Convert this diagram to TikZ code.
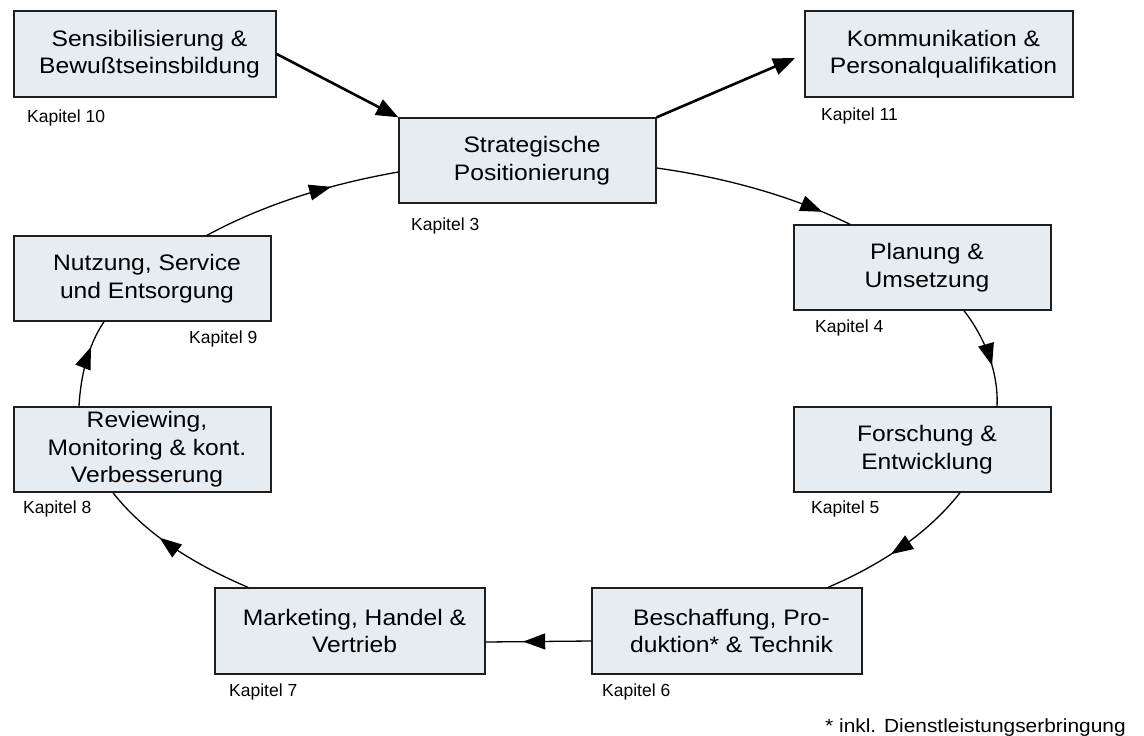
\documentclass[tikz,border=0pt]{standalone}
\usepackage{fontspec}
\setmainfont{Liberation Sans}
\newfontfamily\boxfont[FakeStretch=1.1]{Liberation Sans}
\usetikzlibrary{arrows.meta,decorations.markings}
\definecolor{boxfill}{RGB}{231,236,241}
\definecolor{boxline}{RGB}{30,30,30}
\newcommand{\ind}{\hspace*{9pt}}
\begin{document}
\begin{tikzpicture}[x=1pt,y=1pt,
  stage/.style={draw=boxline, line width=1.4pt, fill=boxfill, inner sep=0pt,
    align=center, font=\boxfont\fontsize{22.4}{27.5}\selectfont},
  chap/.style={anchor=base west, inner sep=0pt, font=\fontsize{17.5}{20}\selectfont},
  flow/.style={line width=1.3pt, looseness=0.85, postaction={decorate},
    decoration={markings, mark=at position #1 with {\arrow{Triangle[length=22pt,width=16pt]}}}},
  bigflow/.style={line width=2.6pt, -{Triangle[length=22pt,width=17pt]}}
]
\useasboundingbox (0,0) rectangle (1144,-736);

% boxes
\node[stage, minimum width=262pt, minimum height=86pt] (sens) at (145,-54) {\ind Sensibilisierung \&\\\ind Bewußtseinsbildung};
\node[stage, minimum width=257pt, minimum height=85pt] (strat) at (527.5,-160.5) {\ind Strategische\\\ind Positionierung};
\node[stage, minimum width=268pt, minimum height=86pt] (komm) at (939,-54) {\ind Kommunikation \&\\\ind Personalqualifikation};
\node[stage, minimum width=257pt, minimum height=85pt] (plan) at (922.5,-267.5) {\ind Planung \&\\\ind Umsetzung};
\node[stage, minimum width=257pt, minimum height=85pt] (forsch) at (922.5,-449.5) {\ind Forschung \&\\\ind Entwicklung};
\node[stage, minimum width=270pt, minimum height=86pt] (besch) at (727,-631) {\ind Beschaffung, Pro-\\\ind duktion* \& Technik};
\node[stage, minimum width=270pt, minimum height=86pt] (mark) at (350,-631) {\ind Marketing, Handel \&\\\ind Vertrieb};
\node[stage, minimum width=257pt, minimum height=85pt] (rev) at (142.5,-449.5) {\ind Reviewing,\\\ind Monitoring \& kont.\\\ind Verbesserung};
\node[stage, minimum width=257pt, minimum height=85pt] (nutz) at (142.5,-278.5) {\ind Nutzung, Service\\\ind und Entsorgung};

% chapter labels
\node[chap] (k10) at (27,-122) {Kapitel 10};
\node[chap] (k3) at (411,-230) {Kapitel 3};
\node[chap] (k11) at (821,-120) {Kapitel 11};
\node[chap] (k4) at (815,-332) {Kapitel 4};
\node[chap] (k5) at (811,-513) {Kapitel 5};
\node[chap] (k6) at (602,-696) {Kapitel 6};
\node[chap] (k7) at (229,-696) {Kapitel 7};
\node[chap] (k8) at (23,-513) {Kapitel 8};
\node[chap] (k9) at (189,-343) {Kapitel 9};

\node[anchor=base west, inner sep=0pt, font=\boxfont\fontsize{19}{22}\selectfont] (fn) at (825,-732) {* inkl. Dienstleistungserbringung};

% straight arrows
\draw[bigflow] (sens.east) -- (strat.north west);
\draw[bigflow, shorten >=10pt] (strat.north east) -- (komm.west);

% cycle
\draw[flow=0.85] ([yshift=-7.5pt]strat.east) to[out=-8, in=154] ([xshift=-72.5pt]plan.north);
\draw[flow=0.60] ([xshift=41.5pt]plan.south) to[out=-52, in=87] ([xshift=74.5pt]forsch.north);
\draw[flow=0.565] ([xshift=37.5pt]forsch.south) to[out=-128, in=23] ([xshift=101pt]besch.north);
\draw[flow=0.645] ([yshift=-10pt]besch.west) -- ([yshift=-11pt]mark.east);
\draw[flow=0.61] ([xshift=-102pt]mark.north) to[out=157, in=-52] ([xshift=-29.5pt]rev.south);
\draw[flow=0.68] ([xshift=-63.5pt]rev.north) to[out=87, in=-124] ([xshift=-38.5pt]nutz.south);
\draw[flow=0.66] ([xshift=64.5pt]nutz.north) to[out=28.5, in=190] ([yshift=-11.5pt]strat.west);
\end{tikzpicture}
\end{document}
